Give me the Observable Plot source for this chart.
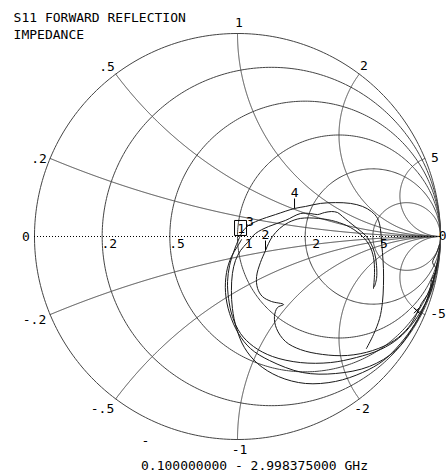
<!DOCTYPE html>
<html><head><meta charset="utf-8">
<script src="https://cdn.jsdelivr.net/npm/d3@7"></script>
<script src="https://cdn.jsdelivr.net/npm/@observablehq/plot@0.6"></script>
<style>html,body{margin:0;padding:0;background:#fff}svg{display:block}</style>
</head><body><div id="chart"></div>
<script>
// ---- data ----
const titleLines = ["S11 FORWARD REFLECTION", "IMPEDANCE"];
const sweepLabel = "0.100000000 - 2.998375000 GHz";
const resistanceValues = [0.2, 0.5, 1, 2, 5];
const resistanceLabels = [".2", ".5", "1", "2", "5"];
const reactanceValues = [0.2, 0.5, 1, 2, 5, -0.2, -0.5, -1, -2, -5];
const reactanceLabels = [".2", ".5", "1", "2", "5", "-.2", "-.5", "-1", "-2", "-5"];
const endLabels = ["0", "0"];
const endRe = [-1, 1];

// reflection coefficient traces (real / imaginary parts)
const traceARe = [0.995,0.985,0.970,0.951,0.911,0.862,0.793,0.704,0.586,0.458,0.310,0.172,0.079,0.015,-0.025,-0.044,-0.049,-0.039,-0.020,-0.005,0.010,0.025,0.054,0.103,0.187,0.281,0.335,0.409,0.483,0.557,0.616,0.660,0.690,0.704,0.709,0.714,0.719,0.719,0.714,0.700,0.670,0.635];
const traceAIm = [-0.059,-0.128,-0.202,-0.276,-0.355,-0.429,-0.502,-0.557,-0.596,-0.621,-0.621,-0.591,-0.542,-0.478,-0.394,-0.305,-0.222,-0.143,-0.079,-0.039,-0.005,0.025,0.054,0.079,0.108,0.138,0.148,0.163,0.167,0.163,0.148,0.123,0.089,0.039,-0.020,-0.079,-0.158,-0.241,-0.325,-0.404,-0.483,-0.552];
const traceBRe = [0.985,0.961,0.926,0.872,0.803,0.719,0.616,0.483,0.335,0.202,0.099,0.034,-0.005,-0.025,-0.030,-0.025,-0.010,0.015,0.049,0.089,0.153,0.236,0.310,0.360,0.394,0.429,0.463,0.493,0.517,0.547,0.591,0.631,0.655,0.675,0.685,0.685,0.675];
const traceBIm = [-0.128,-0.227,-0.330,-0.433,-0.527,-0.611,-0.670,-0.714,-0.724,-0.690,-0.626,-0.547,-0.453,-0.355,-0.266,-0.182,-0.118,-0.069,-0.030,0.015,0.049,0.079,0.113,0.113,0.108,0.118,0.123,0.118,0.099,0.074,0.039,0.005,-0.030,-0.079,-0.143,-0.207,-0.246];
const traceCRe = [0.670,0.675,0.670,0.650,0.616,0.557,0.483,0.399,0.310,0.251,0.207,0.172,0.153,0.138,0.113,0.094,0.099,0.123,0.167,0.227,0.197,0.182,0.192,0.236,0.310,0.419,0.542,0.665,0.773,0.842,0.882,0.906,0.936,0.951,0.956,0.980,0.961,0.980,0.995];
const traceCIm = [-0.256,-0.177,-0.103,-0.044,0.000,0.044,0.074,0.089,0.089,0.069,0.039,0.000,-0.034,-0.069,-0.128,-0.197,-0.256,-0.296,-0.320,-0.335,-0.350,-0.394,-0.453,-0.517,-0.557,-0.581,-0.586,-0.562,-0.512,-0.448,-0.384,-0.330,-0.286,-0.246,-0.212,-0.163,-0.128,-0.084,-0.039];
const traceDRe = [0.975,0.946,0.911,0.862,0.778,0.650,0.483,0.320,0.158,0.064,0.005,-0.039,-0.059,-0.054,-0.030,0.000,0.020];
const traceDIm = [-0.177,-0.276,-0.365,-0.453,-0.562,-0.640,-0.675,-0.670,-0.611,-0.552,-0.478,-0.379,-0.276,-0.177,-0.099,-0.049,-0.015];

const markerNames = ["1", "2", "3", "4", "5"];
const markerRe = [0.015, 0.138, 0.054, 0.281, 0.882];
const markerIm = [0.042, -0.069, 0.054, 0.138, -0.365];

// ---- styling ----
const FONT = "DejaVu Sans Mono";
const FS = 13;
const GRID = "#444";
const INK = "#1a1a1a";
// pixel offsets of rim labels from their rim point (ink centre)
const rimOffset = {".2":[-11,0], ".5":[-8.7,-7.6], "1":[1.5,-11], "2":[4.7,-9.1], "5":[10.1,-0.9],
  "-.2":[-15.6,4.4], "-.5":[-13.2,9.1], "-1":[2,9.5], "-2":[2.7,9.6], "-5":[13.1,-1.1]};

// ---- build tables ----
const grid = [];
for (let a = 0; a <= 360; a++) {
  const t = a * Math.PI / 180;
  grid.push({g: "outer", x: Math.cos(t), y: Math.sin(t)});
}
resistanceValues.forEach(r => {
  const c = r / (1 + r), R = 1 / (1 + r);
  for (let a = 0; a <= 360; a++) {
    const t = a * Math.PI / 180;
    grid.push({g: "r" + r, x: c + R * Math.cos(t), y: R * Math.sin(t)});
  }
});
reactanceValues.forEach(xv => {
  const n = 600;
  for (let i = 0; i <= n; i++) {
    const s = i / n;
    if (s < 1) {
      const t = s / (1 - s);
      const den = (t + 1) ** 2 + xv * xv;
      grid.push({g: "x" + xv, x: (t * t - 1 + xv * xv) / den, y: 2 * xv / den});
    } else grid.push({g: "x" + xv, x: 1, y: 0});
  }
});

const traces = [];
[["A", traceARe, traceAIm], ["B", traceBRe, traceBIm], ["C", traceCRe, traceCIm], ["D", traceDRe, traceDIm]].forEach(([k, re, im]) => {
  re.forEach((v, i) => traces.push({trace: k, x: v, y: im[i]}));
});
const markers = markerNames.map((name, i) => ({name, x: markerRe[i], y: markerIm[i]}));

const rim = reactanceValues.map((xv, i) => ({
  label: reactanceLabels[i],
  x: (xv * xv - 1) / (xv * xv + 1),
  y: 2 * xv / (xv * xv + 1)
}));
const resAxis = resistanceValues.map((r, i) => ({label: resistanceLabels[i], x: (r - 1) / (r + 1), y: 0}));
const ends = endLabels.map((l, i) => ({label: l, x: endRe[i], y: 0}));

const boxSymbol = {draw(ctx) { ctx.rect(-6, -7.5, 12, 15); }};
const tickSymbol = {draw(ctx) { ctx.moveTo(0, 0); ctx.lineTo(0, -10); }};
const txt = {fontFamily: FONT, fontSize: FS, fill: "#000"};

const rimMarks = rim.map(d => Plot.text([d], {
  x: "x", y: "y", text: "label", ...txt, textAnchor: "middle", lineAnchor: "middle",
  dx: rimOffset[d.label][0], dy: rimOffset[d.label][1] + 0.6
}));

const chart = Plot.plot({
  width: 446, height: 473,
  marginLeft: 34, marginRight: 6, marginTop: 33, marginBottom: 34,
  x: {domain: [-1, 1], axis: null},
  y: {domain: [-1, 1], axis: null},
  style: {background: "#fff"},
  marks: [
    Plot.line(grid, {x: "x", y: "y", z: "g", stroke: GRID, strokeWidth: 1}),
    Plot.ruleY([0], {x1: -1, x2: 1, stroke: "#000", strokeWidth: 1, strokeDasharray: "1,2"}),
    Plot.line(traces, {x: "x", y: "y", z: "trace", stroke: INK, strokeWidth: 1, curve: "catmull-rom"}),
    // markers
    Plot.dot(markers.filter(d => d.name === "1"), {x: "x", y: "y", symbol: boxSymbol, r: 5, stroke: "#000", fill: "none", strokeWidth: 1}),
    Plot.text(markers.filter(d => d.name === "1"), {x: "x", y: "y", text: "name", ...txt, dx: 0.5, dy: 1.1}),
    Plot.dot(markers.filter(d => d.name === "2" || d.name === "4"), {x: "x", y: "y", symbol: tickSymbol, r: 5, stroke: "#000", fill: "none", strokeWidth: 1}),
    Plot.text(markers.filter(d => d.name === "2" || d.name === "4"), {x: "x", y: "y", text: "name", ...txt, dy: -15.2}),
    Plot.text(markers.filter(d => d.name === "3"), {x: "x", y: "y", text: "name", ...txt, dx: 1.5, dy: -3.4}),
    Plot.dot(markers.filter(d => d.name === "5"), {x: "x", y: "y", symbol: "times", r: 2.5, stroke: "#000", strokeWidth: 1}),
    // grid labels
    Plot.text(resAxis, {x: "x", y: "y", text: "label", ...txt, textAnchor: "end", lineAnchor: "middle", dx: 15, dy: 7}),
    Plot.text(ends.slice(0, 1), {x: "x", y: "y", text: "label", ...txt, textAnchor: "middle", lineAnchor: "middle", dx: -8.5, dy: 0.6}),
    Plot.text(ends.slice(1), {x: "x", y: "y", text: "label", ...txt, textAnchor: "end", lineAnchor: "middle", dx: 6, dy: -1}),
    ...rimMarks,
    // titles
    Plot.text([titleLines[0]], {text: d => d, frameAnchor: "top-left", ...txt, textAnchor: "start", lineAnchor: "bottom", dx: -20.9, dy: -11.3}),
    Plot.text([titleLines[1]], {text: d => d, frameAnchor: "top-left", ...txt, textAnchor: "start", lineAnchor: "bottom", dx: -20.9, dy: 5.3}),
    Plot.text([sweepLabel], {text: d => d, frameAnchor: "bottom", ...txt, textAnchor: "middle", lineAnchor: "bottom", dx: 17, dy: 30.3}),
    Plot.text(["-"], {text: d => d, frameAnchor: "bottom-left", ...txt, textAnchor: "middle", lineAnchor: "middle", dx: 111, dy: 1})
  ]
});
document.getElementById("chart").appendChild(chart);
</script>
</body></html>
